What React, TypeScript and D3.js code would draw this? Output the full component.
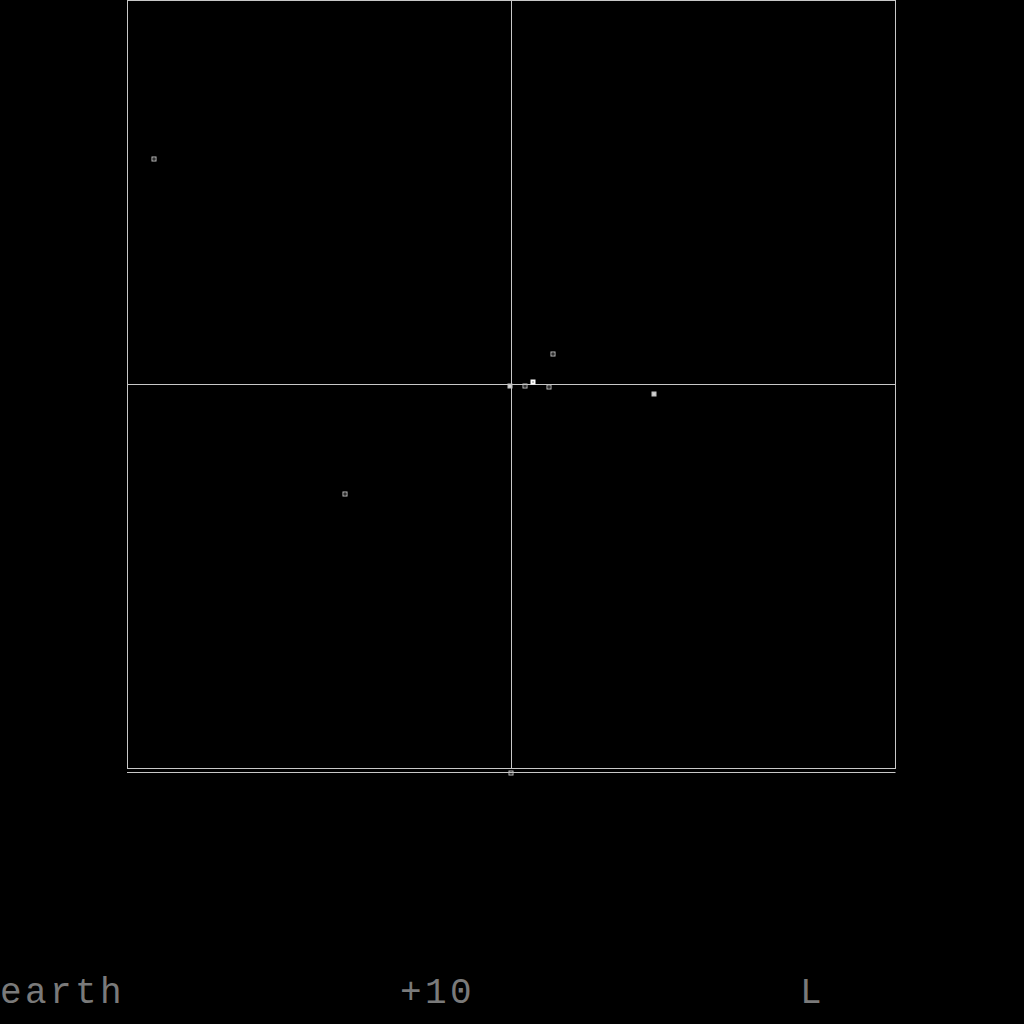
import * as d3 from 'd3'
import { useEffect, useRef } from 'react'

// point coordinates in plot units (-1..1 both ways)
const pointX = [-0.931, -0.434, -0.004, 0.035, 0.055, 0.098, 0.108, 0.372]
const pointY = [0.587, -0.285, -0.003, -0.004, 0.006, -0.006, 0.079, -0.026]
const pointKind = ['o', 'o', 'f', 'o', 'h', 'o', 'o', 'f']
// marker on the strip under the frame
const stripX = [0]
const labels = ['earth', '+10', 'L']
const labelCols = [0, 1, 2]

export default function App() {
  const svgRef = useRef<SVGSVGElement>(null)

  useEffect(() => {
    if (!svgRef.current) return
    const svg = d3.select(svgRef.current)
    svg.selectAll('*').remove()

    const W = 1024
    const H = 1024
    const frame = { left: 127.5, right: 895.5, top: 0.5, bottom: 768.5 }

    svg.append('rect').attr('width', W).attr('height', H).attr('fill', '#000')

    const x = d3.scaleLinear().domain([-1, 1]).range([frame.left, frame.right])
    const y = d3.scaleLinear().domain([-1, 1]).range([frame.bottom, frame.top])
    const grey = '#c8c8c8'

    svg.append('rect')
      .attr('x', frame.left)
      .attr('y', frame.top)
      .attr('width', frame.right - frame.left)
      .attr('height', frame.bottom - frame.top)
      .attr('fill', 'none')
      .attr('stroke', grey)
      .attr('stroke-width', 1)

    // crosshair through the origin
    svg.append('line')
      .attr('x1', Math.round(x(0)) - 0.5).attr('x2', Math.round(x(0)) - 0.5)
      .attr('y1', frame.top).attr('y2', frame.bottom)
      .attr('stroke', grey)
    svg.append('line')
      .attr('x1', frame.left).attr('x2', frame.right)
      .attr('y1', Math.round(y(0)) - 0.5).attr('y2', Math.round(y(0)) - 0.5)
      .attr('stroke', grey)

    // strip under the frame
    const stripY = 772.5
    svg.append('line')
      .attr('x1', frame.left - 0.5).attr('x2', frame.right)
      .attr('y1', stripY).attr('y2', stripY)
      .attr('stroke', grey)

    const drawMarker = (cx: number, cy: number, kind: string) => {
      const px = Math.round(cx)
      const py = Math.round(cy)
      const g = svg.append('g')
      if (kind === 'f') {
        g.append('rect').attr('x', px - 2.5).attr('y', py - 2.5).attr('width', 5).attr('height', 5)
          .attr('fill', '#c4c4c4')
        g.append('rect').attr('x', px - 0.5).attr('y', py - 0.5).attr('width', 1).attr('height', 1)
          .attr('fill', '#fff')
      } else if (kind === 'h') {
        g.append('rect').attr('x', px - 2.5).attr('y', py - 2.5).attr('width', 5).attr('height', 5)
          .attr('fill', '#fff')
        g.append('rect').attr('x', px - 0.5).attr('y', py - 0.5).attr('width', 1).attr('height', 1)
          .attr('fill', '#000')
      } else {
        g.append('rect').attr('x', px - 2).attr('y', py - 2).attr('width', 4).attr('height', 4)
          .attr('fill', 'none').attr('stroke', '#bdbdbd').attr('stroke-width', 1)
        g.append('rect').attr('x', px - 0.5).attr('y', py - 0.5).attr('width', 1).attr('height', 1)
          .attr('fill', '#bdbdbd')
      }
    }

    pointX.forEach((v, i) => drawMarker(x(v), y(pointY[i]), pointKind[i]))
    stripX.forEach((v) => drawMarker(x(v) - 0.5, stripY, 'o'))

    // bottom labels in a thin mono face
    const col = d3.scaleLinear().domain([0, 1]).range([0, 400])
    labels.forEach((t, i) => {
      svg.append('text')
        .attr('x', col(labelCols[i]))
        .attr('y', 1003)
        .attr('font-family', '"Liberation Mono", "DejaVu Sans Mono", monospace')
        .attr('font-size', 36)
        .attr('letter-spacing', 3.4)
        .attr('fill', '#7a7a7a')
        .text(t)
    })
  }, [])

  return (
    <svg
      ref={svgRef}
      width={1024}
      height={1024}
      style={{ position: 'fixed', left: 0, top: 0, display: 'block' }}
    />
  )
}
